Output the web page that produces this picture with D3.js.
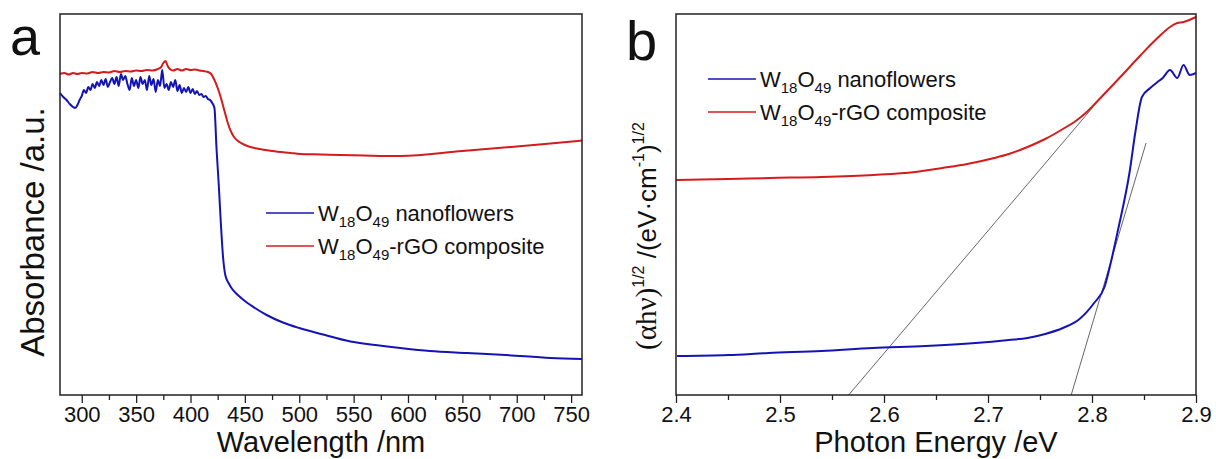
<!DOCTYPE html>
<html lang="en">
<head>
<meta charset="UTF-8" />
<script src="https://d3js.org/d3.v7.min.js"></script>
<title>W18O49 absorbance</title>
<style>
  body { margin: 0; background: #fff; }
  text { font-family: "Liberation Sans", Arial, sans-serif; fill: #111; }
</style>
</head>
<body>
<script>
// panel a: UV-vis absorbance (arbitrary units)
var wlBlue = [280,283,286,289,292,294,296,298,300,302,304,306,308,310,312,314,316,318,320,322,324,326,328,330,332,334,336,338,340,342,344,346,348,350,352,354,356,358,360,362,364,366,368,370,372,374,376,378,380,382,384,386,388,390,392,394,396,398,400,402,404,406,408,410,412,414,416,418,420,422,424,426,428,430,432,435,438,443,450,460,470,485,500,520,547,570,593,620,654,690,731,760];
var absBlue = [3.02,2.98,2.95,2.91,2.88,2.87,2.90,2.95,2.99,3.05,3.02,3.08,3.05,3.11,3.07,3.13,3.09,3.15,3.10,3.16,3.08,3.13,3.17,3.11,3.18,3.09,3.21,3.15,3.19,3.11,3.05,3.17,3.09,3.15,3.07,3.18,3.11,3.15,3.05,3.19,3.10,3.16,3.03,3.15,3.09,3.25,3.07,3.11,3.05,3.13,3.08,3.15,3.04,3.10,3.02,3.07,3.03,3.08,3.02,3.06,3.01,3.04,3.00,3.01,2.98,2.99,2.96,2.95,2.92,2.87,2.45,2.10,1.70,1.37,1.20,1.12,1.065,1.005,0.94,0.865,0.80,0.725,0.67,0.61,0.535,0.50,0.47,0.44,0.42,0.40,0.37,0.36];
var wlRed = [280,284,288,292,296,300,305,310,315,320,325,330,335,340,345,350,355,360,365,370,373,375,377,379,381,384,388,392,396,400,404,408,412,416,419,422,425,428,431,434,437,440,445,450,455,461,475,492,501,520,538,560,593,650,700,731,760];
var absRed = [3.21,3.22,3.205,3.22,3.21,3.22,3.215,3.23,3.22,3.23,3.225,3.24,3.23,3.24,3.235,3.245,3.24,3.25,3.245,3.26,3.28,3.32,3.34,3.29,3.26,3.245,3.26,3.245,3.26,3.25,3.255,3.245,3.24,3.23,3.21,3.15,3.07,2.97,2.85,2.73,2.64,2.58,2.53,2.50,2.48,2.465,2.44,2.42,2.41,2.405,2.40,2.395,2.39,2.44,2.485,2.515,2.545];

// panel b: Tauc plot
var eBlue = [2.401,2.45,2.489,2.54,2.589,2.64,2.688,2.72,2.738,2.755,2.772,2.788,2.802,2.812,2.818,2.825,2.836,2.842,2.848,2.856,2.863,2.868,2.875,2.882,2.888,2.894,2.9];
var tBlue = [0.39,0.40,0.42,0.44,0.47,0.49,0.52,0.55,0.57,0.61,0.67,0.76,0.92,1.08,1.32,1.65,2.22,2.65,2.98,3.07,3.13,3.17,3.25,3.17,3.30,3.20,3.22];
var eRed = [2.4,2.45,2.49,2.54,2.59,2.63,2.656,2.68,2.706,2.72,2.738,2.755,2.772,2.785,2.795,2.809,2.83,2.846,2.863,2.875,2.882,2.888,2.9];
var tRed = [2.15,2.16,2.17,2.18,2.20,2.23,2.27,2.31,2.37,2.41,2.48,2.56,2.66,2.745,2.83,2.98,3.21,3.39,3.57,3.68,3.72,3.73,3.78];
// band-gap tangent lines [x0, y0, x1, y1]
var tangents = [[2.566, 0, 2.801, 2.88], [2.78, 0, 2.852, 2.52]];

var seriesNames = ["nanoflowers", "-rGO composite"];
var colors = ["#1414b4", "#d41c1c"];
var wlTicks = [300,350,400,450,500,550,600,650,700,750];
var wlMinor = [325,375,425,475,525,575,625,675,725];
var eTicks = [2.4,2.5,2.6,2.7,2.8,2.9];
var eMinor = [2.45,2.55,2.65,2.75,2.85];

var svg = d3.select("body").append("svg").attr("width", 1216).attr("height", 459);

function zip(xs, ys) { return xs.map(function(x, i) { return [x, ys[i]]; }); }

function panel(opt) {
  var x = d3.scaleLinear().domain(opt.xdom).range([opt.left, opt.right]);
  var y = d3.scaleLinear().domain([0, 3.81]).range([395, 14]);
  var g = svg.append("g");

  g.append("g").attr("transform", "translate(0,395)")
    .call(d3.axisBottom(x).tickValues(opt.minor).tickSize(5).tickFormat(""))
    .call(function(a) { a.select(".domain").remove(); a.selectAll("line").attr("stroke", "#222").attr("stroke-width", 1.3); });
  g.append("g").attr("transform", "translate(0,395)")
    .call(d3.axisBottom(x).tickValues(opt.ticks).tickSize(8).tickPadding(3).tickFormat(opt.fmt))
    .call(function(a) {
      a.select(".domain").remove();
      a.selectAll("line").attr("stroke", "#222").attr("stroke-width", 1.3);
      a.selectAll("text").attr("font-size", 22).attr("fill", "#111")
        .style("font-family", "'Liberation Sans', Arial, sans-serif");
    });

  var straight = d3.line().x(function(d) { return x(d[0]); }).y(function(d) { return y(d[1]); });
  var line = d3.line().curve(d3.curveMonotoneX).x(function(d) { return x(d[0]); }).y(function(d) { return y(d[1]); });
  if (opt.tangents) {
    opt.tangents.forEach(function(t) {
      g.append("path").datum([[t[0], t[1]], [t[2], t[3]]]).attr("d", straight)
        .attr("stroke", "#555").attr("stroke-width", 0.9).attr("fill", "none");
    });
  }
  opt.series.forEach(function(s, i) {
    g.append("path").datum(s).attr("d", line)
      .attr("stroke", colors[i]).attr("stroke-width", 2).attr("fill", "none")
      .attr("stroke-linejoin", "round");
  });

  g.append("rect").attr("x", opt.left).attr("y", 14).attr("width", opt.right - opt.left).attr("height", 381)
    .attr("fill", "none").attr("stroke", "#222").attr("stroke-width", 1.5);

  g.append("text").attr("x", (opt.left + opt.right) / 2).attr("y", 452).attr("text-anchor", "middle")
    .attr("font-size", 29).text(opt.xtitle);

  // legend
  seriesNames.forEach(function(n, i) {
    var ly = opt.legY + i * 33;
    g.append("line").attr("x1", opt.legX).attr("x2", opt.legX + 48).attr("y1", ly).attr("y2", ly)
      .attr("stroke", colors[i]).attr("stroke-width", 1.6);
    var t = g.append("text").attr("x", opt.legX + 52).attr("y", ly + 8).attr("font-size", 22);
    t.append("tspan").text("W");
    t.append("tspan").attr("font-size", 15).attr("dy", 6).text("18");
    t.append("tspan").attr("dy", -6).text("O");
    t.append("tspan").attr("font-size", 15).attr("dy", 6).text("49");
    t.append("tspan").attr("dy", -6).text((i === 0 ? " " : "") + n);
  });
}

panel({ xdom: [280, 760], left: 60, right: 582, ticks: wlTicks, minor: wlMinor, fmt: d3.format("d"),
  series: [zip(wlBlue, absBlue), zip(wlRed, absRed)], xtitle: "Wavelength /nm", legX: 266, legY: 213 });
panel({ xdom: [2.4, 2.9], left: 676, right: 1196, ticks: eTicks, minor: eMinor, fmt: d3.format(".1f"),
  series: [zip(eBlue, tBlue), zip(eRed, tRed)], xtitle: "Photon Energy /eV", legX: 708, legY: 79, tangents: tangents });

// panel letters
svg.append("text").attr("x", 10).attr("y", 55).attr("font-size", 54).text("a");
svg.append("text").attr("x", 626).attr("y", 60).attr("font-size", 56).text("b");

// y titles
svg.append("text").attr("transform", "translate(44,232) rotate(-90)").attr("text-anchor", "middle")
  .attr("font-size", 33).text("Absorbance /a.u.");

var yb = svg.append("text").attr("transform", "translate(656,236) rotate(-90)").attr("text-anchor", "middle")
  .attr("font-size", 26);
yb.append("tspan").style("font-family", "'Liberation Serif', 'Times New Roman', serif").attr("font-size", 29).text("(αhν)");
yb.append("tspan").attr("font-size", 16).attr("dy", -12).text("1/2");
yb.append("tspan").attr("dy", 12).text(" /(eV·cm");
yb.append("tspan").attr("font-size", 16).attr("dy", -12).text("-1");
yb.append("tspan").attr("dy", 12).text(")");
yb.append("tspan").attr("font-size", 16).attr("dy", -12).text("1/2");
</script>
</body>
</html>
